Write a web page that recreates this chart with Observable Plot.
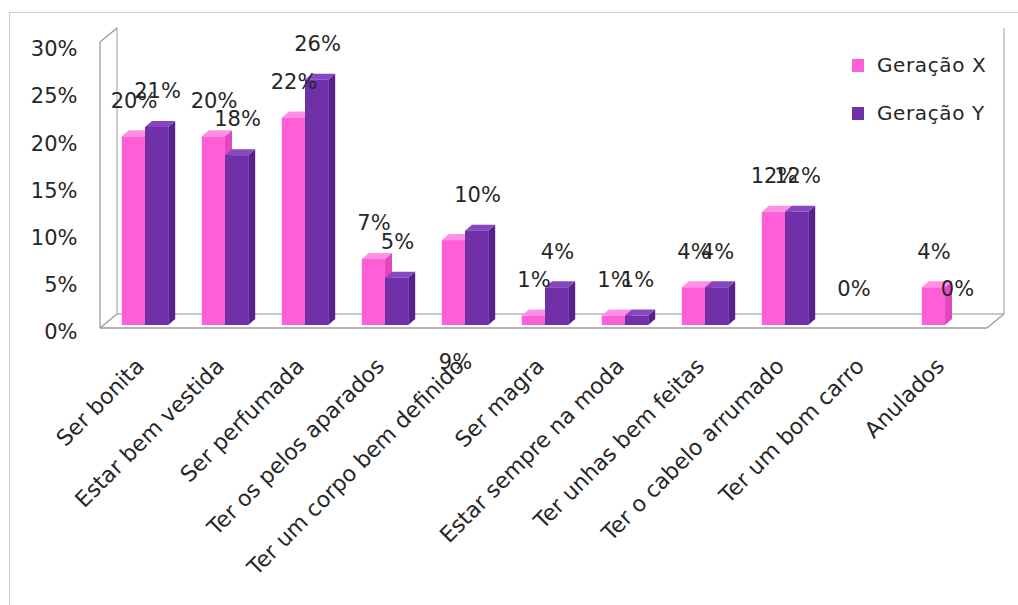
<!DOCTYPE html>
<html>
<head>
<meta charset="utf-8">
<script src="https://cdn.jsdelivr.net/npm/d3@7"></script>
<script src="https://cdn.jsdelivr.net/npm/@observablehq/plot@0.6"></script>
<style>
  html, body { margin: 0; padding: 0; background: #fff; }
  #wrap { position: relative; width: 1018px; height: 605px; overflow: hidden; }
  #frame { position: absolute; left: 9px; top: 12px; width: 1030px; height: 620px;
           border-top: 1.5px solid #cccccc; border-left: 1.5px solid #cccccc; box-sizing: border-box; }
  #chart { position: absolute; left: 0; top: 0; }
  .leg { position: absolute; left: 852px; font-family: "DejaVu Sans", sans-serif; font-size: 20px;
         color: #262626; letter-spacing: 0.6px; display: flex; align-items: center; white-space: nowrap; }
  .sw { width: 12px; height: 13px; margin-right: 13px; }
</style>
</head>
<body>
<div id="wrap">
  <div id="frame"></div>
  <div id="chart"></div>
  <div id="legend"></div>
</div>
<script>
const categories = [
  "Ser bonita", "Estar bem vestida", "Ser perfumada", "Ter os pelos aparados",
  "Ter um corpo bem definido", "Ser magra", "Estar sempre na moda",
  "Ter unhas bem feitas", "Ter o cabelo arrumado", "Ter um bom carro", "Anulados"
];
const seriesNames = ["Geração X", "Geração Y"];
const geracaoX = [20, 20, 22, 7, 9, 1, 1, 4, 12, 0, 4];
const geracaoY = [21, 18, 26, 5, 10, 4, 1, 4, 12, 0, 0];
const yTicks = [0, 5, 10, 15, 20, 25, 30];
const frontColors = ["#ff5fd6", "#7030a8"];
const topColors = ["#ff8fe4", "#8a45c0"];
const sideColors = ["#e447c0", "#55218a"];

// Label quirks seen in the original Excel chart
const displacedLabel = {category: "Ter um corpo bem definido", series: "Geração X"};
const hiddenLabel = {category: "Ter um bom carro", series: "Geração Y"};

const rows = categories.flatMap((c, i) => [
  {category: c, series: seriesNames[0], s: 0, value: geracaoX[i]},
  {category: c, series: seriesNames[1], s: 1, value: geracaoY[i]}
]);
const isDisplaced = r => r.category === displacedLabel.category && r.series === displacedLabel.series;
const isHidden = r => r.category === hiddenLabel.category && r.series === hiddenLabel.series;

const font = "DejaVu Sans";
const textColor = "#262626";

function bandwidthOf(x) {
  if (typeof x.bandwidth === "function") return x.bandwidth();
  return x(categories[1]) - x(categories[0]);
}

// 3D walls & floor
function walls(index, scales, values, dimensions) {
  const {y} = scales;
  const left = dimensions.marginLeft, right = dimensions.width - dimensions.marginRight;
  const yb = y(0), yt = y(30);
  const ddx = 17, ddy = -14;
  const fl = left - 5, fr = right + 2, fy = yb + 3;
  const g = d3.create("svg:g").attr("fill", "none").attr("stroke-width", 1.3);
  const line = (x1, y1, x2, y2, c) => g.append("line").attr("x1", x1).attr("y1", y1).attr("x2", x2).attr("y2", y2).attr("stroke", c);
  const back = "#b4b4b4", front = "#9a9a9a";
  line(fl + ddx, fy + ddy, fr + ddx, fy + ddy, back);          // floor back
  line(fl + ddx, fy + ddy, fl + ddx, yt + ddy, back);          // left wall back
  line(fr + ddx, fy + ddy, fr + ddx, yt + ddy, back);          // right wall back
  line(fl, yt, fl + ddx, yt + ddy, front);                      // left wall top
  line(fl, fy, fl + ddx, fy + ddy, front);                      // left wall bottom
  line(fl, fy, fl, yt, front);                                  // left wall front
  line(fr, fy, fr + ddx, fy + ddy, front);                      // floor right edge
  line(fl, fy, fr, fy, front);                                  // floor front
  return g.node();
}

// 3D bars
function bars3d(index, scales) {
  const {x, y} = scales;
  const bw = bandwidthOf(x);
  const w = bw * 0.29, dX = 7, dY = -6;
  const g = d3.create("svg:g");
  for (const r of rows) {
    if (!(r.value > 0)) continue;
    const cx = x(r.category) + bw / 2;
    const x0 = cx + (r.s - 1) * w, x1 = x0 + w;
    const yt = y(r.value), yb = y(0);
    g.append("path")
      .attr("d", `M${x1},${yb}L${x1 + dX},${yb + dY}L${x1 + dX},${yt + dY}L${x1},${yt}Z`)
      .attr("fill", sideColors[r.s]);
    g.append("path")
      .attr("d", `M${x0},${yt}L${x0 + dX},${yt + dY}L${x1 + dX},${yt + dY}L${x1},${yt}Z`)
      .attr("fill", topColors[r.s]);
    g.append("rect").attr("x", x0).attr("y", yt).attr("width", w).attr("height", yb - yt)
      .attr("fill", frontColors[r.s]);
  }
  return g.node();
}

const labelRows = rows.filter(r => !isHidden(r) && !isDisplaced(r));
const displacedRows = rows.filter(isDisplaced);

const plot = Plot.plot({
  width: 1018,
  height: 605,
  marginLeft: 105,
  marginRight: 33,
  marginTop: 42,
  marginBottom: 280,
  style: {background: "transparent", fontFamily: font},
  x: {type: "band", domain: categories, padding: 0, axis: null},
  y: {domain: [0, 30], axis: null},
  marks: [
    walls,
    bars3d,
    // y tick labels
    Plot.text(yTicks, {
      y: d => d, text: d => d + "%", frameAnchor: "left", textAnchor: "end",
      dx: -28, dy: 7, fontSize: 21, fill: textColor, fontFamily: font
    }),
    // value labels
    Plot.text(labelRows.filter(r => r.s === 0), {
      x: "category", y: "value", text: r => r.value + "%", dx: -11.5, dy: -36,
      fontSize: 21, fill: textColor, fontFamily: font
    }),
    Plot.text(labelRows.filter(r => r.s === 1), {
      x: "category", y: "value", text: r => r.value + "%", dx: 12, dy: -36,
      fontSize: 21, fill: textColor, fontFamily: font
    }),
    Plot.text(displacedRows, {
      x: "category", y: "value", text: r => r.value + "%", dx: -10, dy: 122,
      fontSize: 21, fill: textColor, fontFamily: font
    }),
    // category labels
    Plot.text(categories, {
      x: d => d, frameAnchor: "bottom", text: d => d, rotate: -45, textAnchor: "end",
      dy: 42, dx: 0, fontSize: 22, fill: textColor, fontFamily: font
    })
  ]
});
document.getElementById("chart").appendChild(plot);

const legend = document.getElementById("legend");
const legendTops = [52, 100];
seriesNames.forEach((name, i) => {
  const item = document.createElement("div");
  item.className = "leg";
  item.style.top = legendTops[i] + "px";
  item.style.height = "26px";
  const sw = document.createElement("span");
  sw.className = "sw";
  sw.style.background = frontColors[i];
  item.appendChild(sw);
  item.appendChild(document.createTextNode(name));
  legend.appendChild(item);
});
</script>
</body>
</html>
